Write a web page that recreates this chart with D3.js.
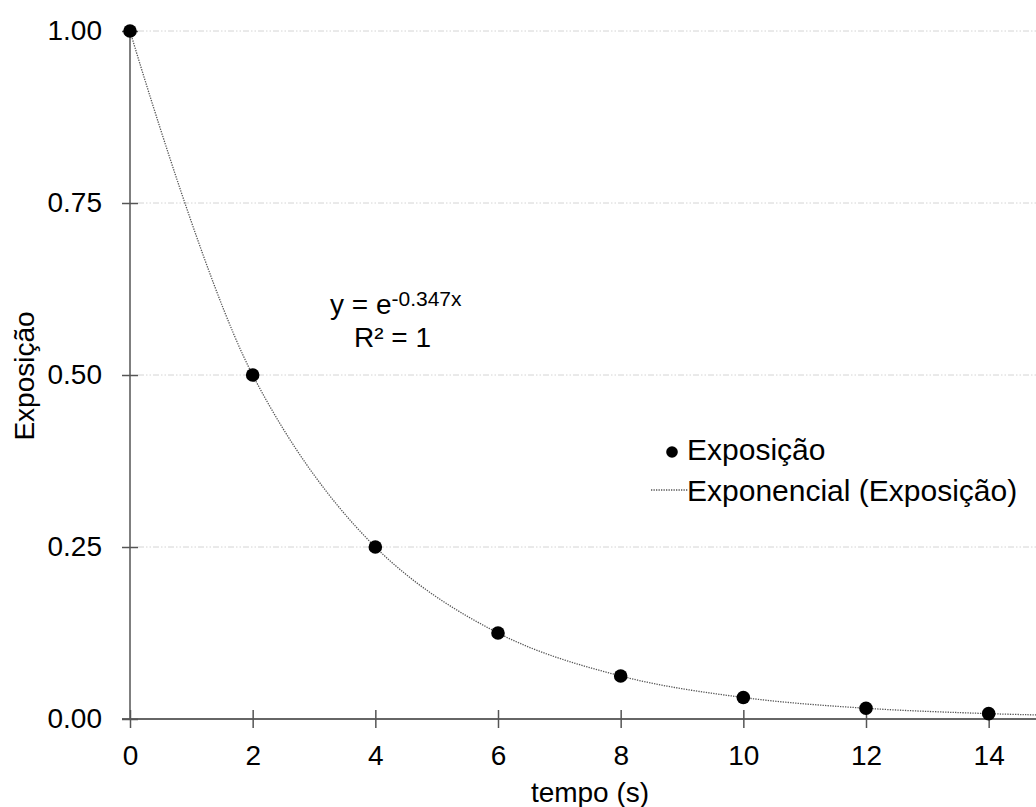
<!DOCTYPE html>
<html>
<head>
<meta charset="utf-8">
<script src="https://cdn.jsdelivr.net/npm/d3@7"></script>
<style>
  html, body { margin: 0; padding: 0; background: #fff; }
  svg { display: block; font-family: "Liberation Sans", Arial, sans-serif; }
</style>
</head>
<body>
<div id="chart"></div>
<script>
// data
var tempo = [0, 2, 4, 6, 8, 10, 12, 14];
var exposicao = [1.0, 0.5, 0.25, 0.125, 0.0625, 0.03125, 0.0156, 0.0078];
// trendline points (data plus the tail to the right edge)
var trendX = [0, 2, 4, 6, 8, 10, 12, 14, 15];
var trendY = [1.0, 0.5, 0.25, 0.125, 0.0625, 0.03125, 0.0156, 0.0078, 0.0055];
var xTicks = [0, 2, 4, 6, 8, 10, 12, 14];
var yTicks = [0, 0.25, 0.5, 0.75, 1.0];

var width = 1036, height = 807;
var svg = d3.select("#chart").append("svg")
    .attr("width", width)
    .attr("height", height);

var x = d3.scaleLinear().domain([0, 15]).range([130, 1050]);
var y = d3.scaleLinear().domain([0, 1]).range([719, 31]);

// gridlines
svg.append("g")
  .selectAll("line")
  .data(yTicks.filter(function(d) { return d > 0; }))
  .enter().append("line")
    .attr("x1", x(0) + 8)
    .attr("x2", width)
    .attr("y1", function(d) { return y(d); })
    .attr("y2", function(d) { return y(d); })
    .attr("stroke", "#d4d4d4")
    .attr("stroke-width", 1)
    .attr("stroke-dasharray", "6,2,1.5,2,1.5,2");

// x axis
var xAxis = svg.append("g")
    .attr("transform", "translate(0," + y(0) + ")")
    .call(d3.axisBottom(x).tickValues(xTicks).tickSize(0).tickPadding(26).tickFormat(d3.format("d")));
xAxis.select(".domain").attr("stroke", "#333").attr("stroke-width", 1.5)
    .attr("d", "M" + (x(0) - 8) + ",0H" + width);
xAxis.selectAll(".tick line").remove();
xAxis.selectAll(".tick").append("line")
    .attr("y1", -9).attr("y2", 9)
    .attr("stroke", "#555").attr("stroke-width", 1.5);
xAxis.selectAll("text").attr("font-size", 28).attr("fill", "#000")
    .attr("font-family", "Liberation Sans, Arial, sans-serif");

// y axis
var yAxis = svg.append("g")
    .attr("transform", "translate(" + x(0) + ",0)")
    .call(d3.axisLeft(y).tickValues(yTicks).tickSize(8).tickPadding(20).tickFormat(d3.format(".2f")));
yAxis.select(".domain").attr("stroke", "#555").attr("stroke-width", 1.5)
    .attr("d", "M0," + y(0) + "V" + y(1));
yAxis.selectAll(".tick line").attr("x1", 8).attr("x2", -8)
    .attr("stroke", "#555").attr("stroke-width", 1.5);
yAxis.selectAll("text").attr("font-size", 28).attr("fill", "#000")
    .attr("font-family", "Liberation Sans, Arial, sans-serif");

// trendline
var line = d3.line()
    .x(function(d, i) { return x(trendX[i]); })
    .y(function(d) { return y(d); })
    .curve(d3.curveCatmullRom.alpha(0.5));
svg.append("path")
    .datum(trendY)
    .attr("d", line)
    .attr("fill", "none")
    .attr("stroke", "#555")
    .attr("stroke-width", 1.3)
    .attr("stroke-dasharray", "1.3,1.2");

// points
svg.append("g")
  .selectAll("circle")
  .data(exposicao)
  .enter().append("circle")
    .attr("cx", function(d, i) { return x(tempo[i]); })
    .attr("cy", function(d) { return y(d); })
    .attr("r", 6.8)
    .attr("fill", "#000");

// axis titles
svg.append("text")
    .attr("x", (x(0) + x(15)) / 2)
    .attr("y", 802)
    .attr("text-anchor", "middle")
    .attr("font-size", 28)
    .text("tempo (s)");
svg.append("text")
    .attr("transform", "translate(34,376) rotate(-90)")
    .attr("text-anchor", "middle")
    .attr("font-size", 28)
    .text("Exposição");

// equation
var eq = svg.append("text")
    .attr("x", 330)
    .attr("y", 314)
    .attr("font-size", 28);
eq.append("tspan").text("y = e");
eq.append("tspan").attr("dy", -8).attr("font-size", 21).text("-0.347x");
svg.append("text")
    .attr("x", 354)
    .attr("y", 347)
    .attr("font-size", 28)
    .text("R² = 1");

// legend
var leg = svg.append("g");
leg.append("circle").attr("cx", 672).attr("cy", 452).attr("r", 5.8).attr("fill", "#000");
leg.append("text").attr("x", 687).attr("y", 460).attr("font-size", 30).text("Exposição");
leg.append("line")
    .attr("x1", 651).attr("x2", 688).attr("y1", 490).attr("y2", 490)
    .attr("stroke", "#555").attr("stroke-width", 1.3).attr("stroke-dasharray", "1.3,1.2");
leg.append("text").attr("x", 687).attr("y", 501).attr("font-size", 30).text("Exponencial (Exposição)");
</script>
</body>
</html>
